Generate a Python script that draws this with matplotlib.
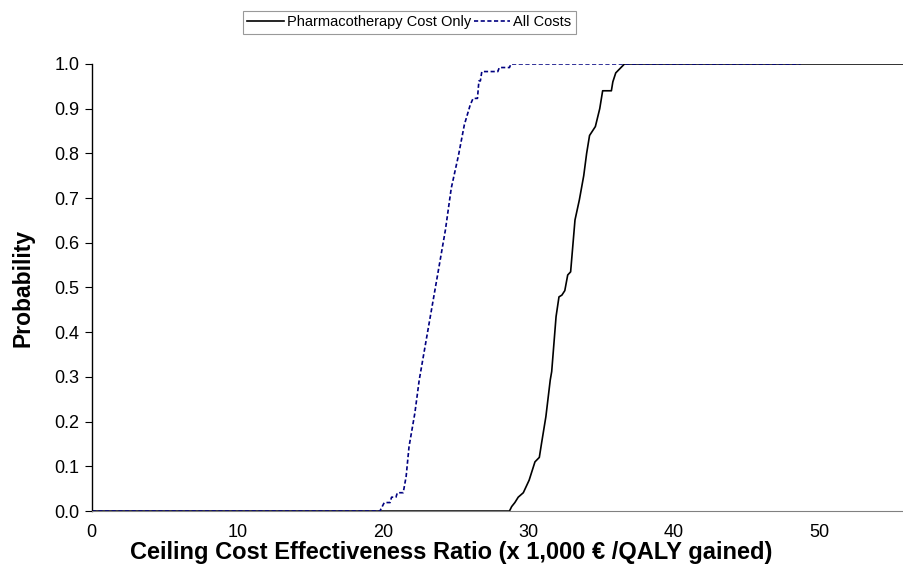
import numpy as np
import matplotlib.pyplot as plt

plt.rcParams['font.family'] = ['Liberation Sans', 'DejaVu Sans']

# values (x in 1,000 EUR/QALY, y probability)
all_x = [0, 19.8, 20.1, 20.5, 20.6, 20.9, 21.0, 21.4, 21.6, 21.8, 22.2, 22.5,
         23.1, 23.6, 23.9, 24.3, 24.7, 25.2, 25.6, 26.0, 26.2, 26.5, 26.6,
         26.7, 26.8, 27.9, 28.0, 28.7, 28.8, 48.7]
all_y = [0, 0, 0.019, 0.019, 0.031, 0.031, 0.041, 0.041, 0.077, 0.144, 0.219,
         0.293, 0.405, 0.498, 0.554, 0.629, 0.722, 0.796, 0.864, 0.908, 0.923,
         0.923, 0.962, 0.962, 0.983, 0.983, 0.992, 0.992, 1.0, 1.0]

pharma_x = [0, 28.7, 28.85, 29.07, 29.3, 29.65, 30.05, 30.45, 30.75, 30.9,
            31.2, 31.5, 31.6, 31.9, 32.1, 32.3, 32.5, 32.7, 32.9, 33.2, 33.5,
            33.8, 34.0, 34.2, 34.6, 34.9, 35.1, 35.7, 35.8, 36.0, 36.3, 36.6, 60]
pharma_y = [0, 0, 0.01, 0.019, 0.031, 0.041, 0.069, 0.11, 0.12, 0.151, 0.211,
            0.293, 0.312, 0.435, 0.479, 0.483, 0.493, 0.528, 0.535, 0.651,
            0.696, 0.75, 0.80, 0.84, 0.86, 0.90, 0.94, 0.94, 0.96, 0.98, 0.99,
            1.0, 1.0]

x_ticks = [0, 10, 20, 30, 40, 50]
y_ticks = np.round(np.arange(0, 1.01, 0.1), 1)

fig = plt.figure(figsize=(9.04, 5.71), dpi=100)
ax = fig.add_axes([0.1014, 0.105, 0.8986, 0.783])

l1, = ax.plot(pharma_x, pharma_y, color='black', lw=1.2,
              label='Pharmacotherapy Cost Only')
l2, = ax.plot(all_x, all_y, color='#000080', lw=1.2, ls=(0, (2.5, 1.5)),
              label='All Costs')

ax.set_xlim(0, 55.8)
ax.set_ylim(0, 1.0)
ax.set_xticks(x_ticks)
ax.set_yticks(y_ticks)
ax.set_yticklabels([f'{v:.1f}' for v in y_ticks])
ax.tick_params(axis='x', length=0, pad=9.5, labelsize=13)
ax.tick_params(axis='y', length=5, direction='out', labelsize=13, pad=4)

for s in ['top', 'right']:
    ax.spines[s].set_visible(False)
ax.spines['bottom'].set_color('#808080')
ax.spines['left'].set_color('black')
ax.spines['left'].set_linewidth(1.0)

ax.set_xlabel('Ceiling Cost Effectiveness Ratio (x 1,000 \u20ac /QALY gained)',
              fontsize=17, fontweight='bold', va='top')
ax.xaxis.set_label_coords(0.442, -0.068)
ax.set_ylabel('Probability', fontsize=16.5, fontweight='bold', labelpad=14)

leg = fig.legend(handles=[l1, l2], loc='center', ncol=2,
                 bbox_to_anchor=(0.453, 0.961), fontsize=10.5,
                 frameon=True, fancybox=False, handlelength=2.5,
                 handletextpad=0.2, columnspacing=0.2, borderpad=0.3)
leg.get_frame().set_edgecolor('#808080')
leg.get_frame().set_linewidth(0.8)

fig.savefig('out.png', dpi=100)
